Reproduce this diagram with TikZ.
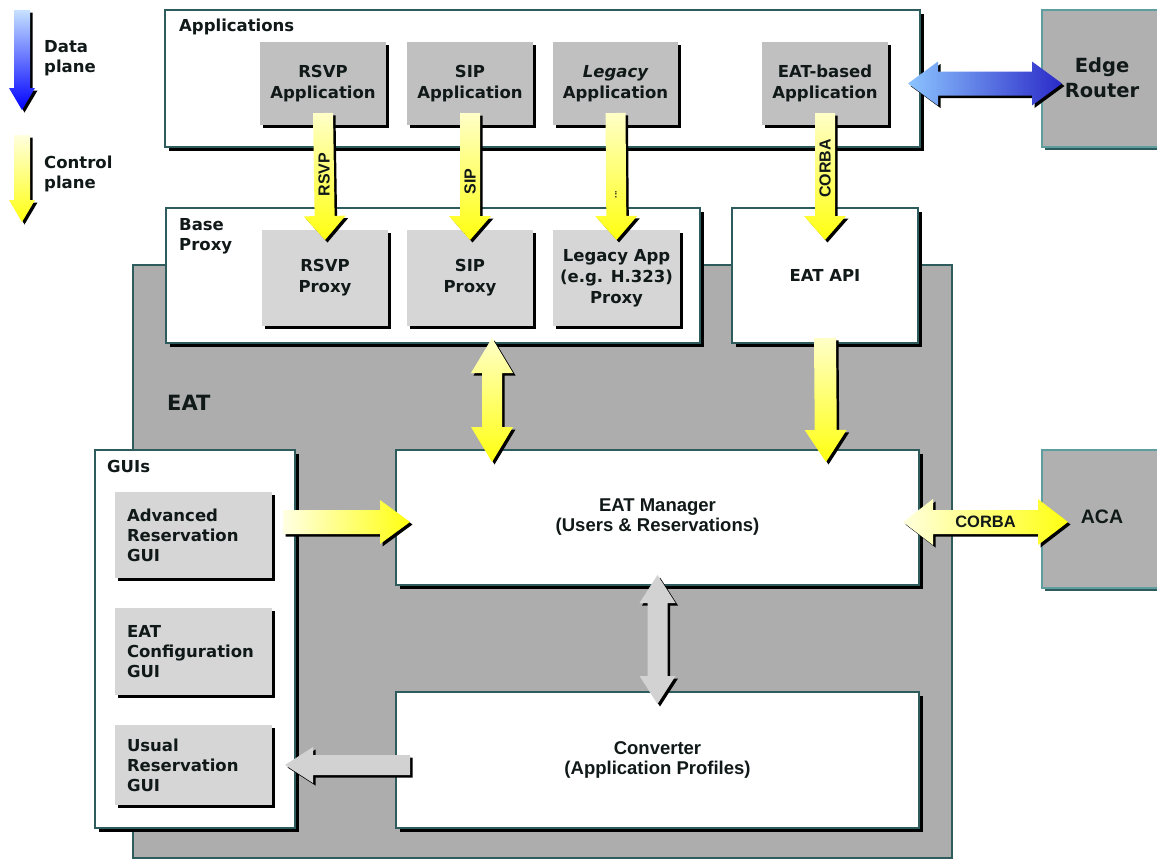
\documentclass[tikz,border=0pt]{standalone}
\usepackage{fontspec}
\setmainfont{DejaVu Sans}
\newfontfamily\narrowfont{Liberation Sans}
\usetikzlibrary{calc,shadows}

\definecolor{framecol}{HTML}{2E5C5C}
\definecolor{tealcol}{HTML}{5F9E9E}
\definecolor{eatgray}{HTML}{ADADAD}
\definecolor{outgray}{HTML}{B0B0B0}
\definecolor{appgray}{HTML}{C0C0C0}
\definecolor{lightgray}{HTML}{D6D6D6}
\definecolor{arrowgray}{HTML}{D2D2D2}
\definecolor{paleyellow}{HTML}{FFFFC8}
\definecolor{brightyellow}{HTML}{FFFF10}
\definecolor{paleblue}{HTML}{8CC4FF}
\definecolor{deepblue}{HTML}{2A2AC8}
\definecolor{inkcol}{HTML}{101818}

% single block arrow from #2 to #3; #4 shaft half width, #5 head half width, #6 head length
\newcommand\fatone[6]{%
  \coordinate (fa-h) at ($(#3)!#6!(#2)$);
  \fill[black,transform canvas={shift={(2.5pt,-2.5pt)}}]
    ($(#2)!#4!90:(#3)$) -- ($(fa-h)!#4!90:(#3)$) -- ($(fa-h)!#5!90:(#3)$) -- (#3)
    -- ($(fa-h)!#5!-90:(#3)$) -- ($(fa-h)!#4!-90:(#3)$) -- ($(#2)!#4!-90:(#3)$) -- cycle;
  \path[#1]
    ($(#2)!#4!90:(#3)$) -- ($(fa-h)!#4!90:(#3)$) -- ($(fa-h)!#5!90:(#3)$) -- (#3)
    -- ($(fa-h)!#5!-90:(#3)$) -- ($(fa-h)!#4!-90:(#3)$) -- ($(#2)!#4!-90:(#3)$) -- cycle;
}
% double block arrow between #2 and #3
\newcommand\fattwo[6]{%
  \coordinate (fb-a) at ($(#2)!#6!(#3)$);
  \coordinate (fb-b) at ($(#3)!#6!(#2)$);
  \fill[black,transform canvas={shift={(2.5pt,-2.5pt)}}]
    (#2) -- ($(fb-a)!#5!90:(#3)$) -- ($(fb-a)!#4!90:(#3)$) -- ($(fb-b)!#4!90:(#3)$)
    -- ($(fb-b)!#5!90:(#3)$) -- (#3) -- ($(fb-b)!#5!-90:(#3)$) -- ($(fb-b)!#4!-90:(#3)$)
    -- ($(fb-a)!#4!-90:(#3)$) -- ($(fb-a)!#5!-90:(#3)$) -- cycle;
  \path[#1]
    (#2) -- ($(fb-a)!#5!90:(#3)$) -- ($(fb-a)!#4!90:(#3)$) -- ($(fb-b)!#4!90:(#3)$)
    -- ($(fb-b)!#5!90:(#3)$) -- (#3) -- ($(fb-b)!#5!-90:(#3)$) -- ($(fb-b)!#4!-90:(#3)$)
    -- ($(fb-a)!#4!-90:(#3)$) -- ($(fb-a)!#5!-90:(#3)$) -- cycle;
}

\tikzset{
  box/.style={anchor=north west, inner sep=0pt, outer sep=0pt},
  panel/.style={box, fill=white, draw=framecol, line width=1.2pt,
    drop shadow={shadow xshift=4pt, shadow yshift=-4pt, opacity=1, fill=black}},
  eatbox/.style={box, fill=eatgray, draw=framecol, line width=1.5pt},
  outbox/.style={box, fill=outgray, draw=tealcol, line width=1.2pt,
    drop shadow={shadow xshift=3pt, shadow yshift=-3pt, opacity=1, fill=framecol}},
  appbox/.style={box, fill=appgray, align=center,
    font=\fontsize{16.5}{21}\selectfont\bfseries, text=inkcol,
    drop shadow={shadow xshift=3pt, shadow yshift=-3pt, opacity=1, fill=black}},
  proxybox/.style={appbox, fill=lightgray},
  guibox/.style={box, fill=lightgray, align=left, text width=133pt, inner xsep=12pt,
    font=\fontsize{16.5}{20}\selectfont\bfseries, text=inkcol,
    drop shadow={shadow xshift=3pt, shadow yshift=-3pt, opacity=1, fill=black}},
  title/.style={inner sep=0pt, align=left, font=\fontsize{16.5}{20}\selectfont\bfseries, text=inkcol},
  coretext/.style={align=center, font=\narrowfont\fontsize{18.5}{20}\selectfont\bfseries, text=inkcol},
  tag/.style={inner sep=0pt, rotate=90, font=\narrowfont\fontsize{16}{16}\selectfont\bfseries, text=inkcol},
  yellowdown/.style={top color=paleyellow, bottom color=brightyellow},
}

\begin{document}
\begin{tikzpicture}[x=1pt, y=-1pt]
\useasboundingbox (0,0) rectangle (1157,860);
\fill[white] (0,0) rectangle (1157,860);

% legend
\coordinate (dp1) at (22,10);  \coordinate (dp2) at (22,110);
\coordinate (cp1) at (22,135); \coordinate (cp2) at (22,222);
\fatone{top color=paleblue!50!white, bottom color=blue}{dp1}{dp2}{8pt}{13pt}{22pt}
\fatone{top color=paleyellow!60!white, bottom color=brightyellow}{cp1}{cp2}{8pt}{13pt}{22pt}
\node[title, anchor=west] (dplbl) at (44,58) {Data\\plane};
\node[title, anchor=west] (cplbl) at (44,174) {Control\\plane};

% EAT container
\node[eatbox, minimum width=819pt, minimum height=593pt] (eat) at (133,265) {};
\node[inner sep=0pt, anchor=west, font=\fontsize{21}{21}\selectfont\bfseries, text=inkcol] (eatlbl) at (167,403) {EAT};

% applications layer
\node[panel, minimum width=755pt, minimum height=137pt] (apps) at (165,10) {};
\node[title, anchor=north west] (appslbl) at (179,19) {Applications};
\node[appbox, minimum width=126pt, minimum height=83pt] (rsvpapp) at (260,42) {RSVP\\Application};
\node[appbox, minimum width=126pt, minimum height=83pt] (sipapp) at (407,42) {SIP\\Application};
\node[appbox, minimum width=125pt, minimum height=83pt] (legapp) at (553,42) {{\itshape Legacy}\\Application};
\node[appbox, minimum width=126pt, minimum height=83pt] (eatapp) at (762,42) {EAT-based\\Application};

\node[outbox, minimum width=120pt, minimum height=137pt] (edge) at (1042,10)
  {};
\node[font=\fontsize{19.5}{25}\selectfont\bfseries, align=center, text=inkcol] (edgelbl) at (1102,78) {Edge\\Router};

% proxy layer
\node[panel, minimum width=534pt, minimum height=135pt] (base) at (166,208) {};
\node[title, anchor=north west] (baselbl) at (179,218) {Base\\Proxy};
\node[proxybox, minimum width=126pt, minimum height=96pt] (rsvpprx) at (262,230) {RSVP\\Proxy};
\node[proxybox, minimum width=126pt, minimum height=96pt] (sipprx) at (407,230) {SIP\\Proxy};
\node[proxybox, minimum width=127pt, minimum height=96pt] (legprx) at (553,230) {Legacy App\\(e.g. H.323)\\Proxy};

\node[panel, minimum width=186pt, minimum height=135pt, font=\fontsize{16.5}{20}\selectfont\bfseries, text=inkcol] (api) at (732,208) {EAT API};

% GUIs
\node[panel, minimum width=200pt, minimum height=378pt] (guis) at (95,450) {};
\node[title, anchor=west] (guislbl) at (107,466) {GUIs};
\node[guibox, minimum height=86pt] (advgui) at (115,492) {Advanced\\Reservation\\GUI};
\node[guibox, minimum height=87pt] (cfggui) at (115,608) {EAT\\Configuration\\GUI};
\node[guibox, minimum height=80pt] (usugui) at (115,725) {Usual\\Reservation\\GUI};

% core
\node[panel, minimum width=523pt, minimum height=135pt, coretext] (mgr) at (396,450) {EAT Manager\\(Users \& Reservations)};
\node[panel, minimum width=523pt, minimum height=136pt, coretext] (conv) at (396,692) {Converter\\(Application Profiles)};

\node[outbox, minimum width=120pt, minimum height=138pt] (aca) at (1042,450) {};
\node[coretext, font=\narrowfont\fontsize{19.5}{20}\selectfont\bfseries] (acalbl) at (1102,517) {ACA};

% protocol arrows from applications to proxies
\coordinate (r1) at ($(rsvpapp.south)+(0,-12)$); \coordinate (r2) at ($(rsvpprx.north)+(0,10)$);
\coordinate (s1) at ($(sipapp.south)+(0,-12)$);  \coordinate (s2) at ($(sipprx.north)+(0,10)$);
\coordinate (l1) at ($(legapp.south)+(0,-12)$);  \coordinate (l2) at ($(legprx.north)+(0,10)$);
\coordinate (c1) at ($(eatapp.south)+(0,-12)$);  \coordinate (c2) at ($(api.north)+(0,32)$);
\fatone{yellowdown}{r1}{r2}{10pt}{21pt}{24pt}
\fatone{yellowdown}{s1}{s2}{10pt}{21pt}{24pt}
\fatone{yellowdown}{l1}{l2}{10pt}{21pt}{24pt}
\fatone{yellowdown}{c1}{c2}{10pt}{21pt}{24pt}
\node[tag] (rsvptag) at ($(r1)!0.5!(r2)+(0,-2)$) {RSVP};
\node[tag] (siptag) at ($(s1)!0.5!(s2)+(0,5)$) {SIP};
\node[tag, font=\narrowfont\fontsize{9}{9}\selectfont\bfseries] (legtag) at ($(l1)!0.5!(l2)+(0,18)$) {...};
\node[tag] (corbatag) at ($(c1)!0.5!(c2)+(0,-8)$) {CORBA};

% proxy / API to manager
\coordinate (b1) at ($(base.south west)+(326,-5)$); \coordinate (b2) at ($(mgr.north west)+(96,12)$);
\coordinate (p1) at ($(api.south)+(0,-5)$);       \coordinate (p2) at ($(mgr.north east)+(-93,12)$);
\fattwo{yellowdown}{b1}{b2}{10pt}{21pt}{35pt}
\fatone{yellowdown}{p1}{p2}{11pt}{21pt}{32pt}

% GUI to manager
\coordinate (g1) at ($(advgui.east)+(11,-13)$); \coordinate (g2) at ($(mgr.west)+(14,4.5)$);
\fatone{left color=paleyellow!50!white, right color=brightyellow}{g1}{g2}{12pt}{22pt}{30pt}

% manager to converter, converter to GUI
\coordinate (m1) at ($(mgr.south)+(0,-10)$); \coordinate (m2) at ($(conv.north)+(0,12)$);
\fattwo{fill=arrowgray}{m1}{m2}{10pt}{18pt}{28pt}
\coordinate (v1) at ($(conv.west)+(14,5)$); \coordinate (v2) at ($(usugui.east)+(13,0)$);
\fatone{fill=arrowgray}{v1}{v2}{10pt}{18pt}{28pt}

% manager to ACA
\coordinate (k1) at ($(mgr.east)+(-16,4.5)$); \coordinate (k2) at ($(aca.west)+(26,3)$);
\fattwo{left color=paleyellow!60!white, right color=brightyellow}{k1}{k2}{12pt}{23pt}{30pt}
\node[inner sep=0pt, font=\narrowfont\fontsize{16.5}{16}\selectfont\bfseries, text=inkcol] (acatag) at ($(k1)!0.5!(k2)$) {CORBA};

% applications to edge router
\coordinate (e1) at ($(apps.east)+(-12,5)$); \coordinate (e2) at ($(edge.west)+(20,5)$);
\fattwo{left color=paleblue, right color=deepblue}{e1}{e2}{12pt}{22pt}{30pt}
\end{tikzpicture}
\end{document}
